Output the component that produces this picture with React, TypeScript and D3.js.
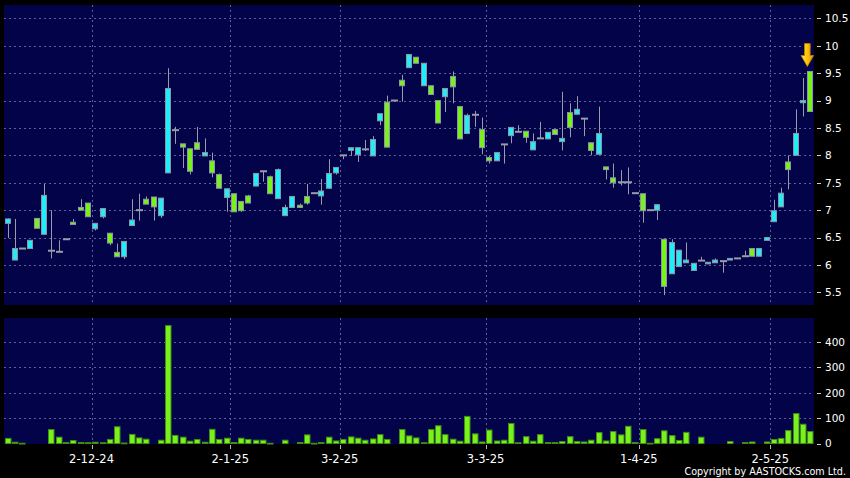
import React from "react";
import * as d3 from "d3";

// ---- data ----
const openP = [
  6.76, 6.09, 6.30, 6.30, 6.85, 6.56, 6.26, 6.24, 6.47, 6.78,
  7.05, 7.13, 6.66, 6.88, 6.58, 6.23, 6.15, 6.72, 7.00, 7.20,
  7.24, 6.90, 7.68, 8.46, 8.21, 8.12, 8.23, 7.99, 7.90, 7.65,
  7.23, 7.30, 7.16, 7.26, 7.44, 7.71, 7.61, 7.21, 6.90, 7.05,
  7.09, 7.25, 7.31, 7.26, 7.40, 7.68, 8.00, 8.09, 8.01, 8.11,
  7.99, 8.63, 8.97, 9.00, 9.37, 9.60, 9.79, 9.27, 9.27, 9.00,
  9.07, 9.44, 8.89, 8.40, 8.74, 8.47, 7.96, 7.90, 8.20, 8.36,
  8.43, 8.44, 8.10, 8.31, 8.30, 8.47, 8.25, 8.78, 8.75, 8.67,
  8.23, 8.02, 7.79, 7.59, 7.51, 7.51, 7.31, 7.30, 7.00, 7.00,
  6.47, 5.84, 5.97, 6.04, 5.90, 6.08, 6.02, 6.04, 6.07, 6.09,
  6.12, 6.16, 6.30, 6.16, 6.45, 6.79, 7.06, 7.88, 8.00, 8.96,
  9.53,
];
const closeP = [
  6.84, 6.30, 6.30, 6.45, 6.67, 7.27, 6.26, 6.24, 6.47, 6.74,
  7.00, 6.88, 6.76, 7.03, 6.40, 6.15, 6.43, 6.82, 7.00, 7.11,
  7.06, 7.22, 9.22, 8.46, 8.15, 7.71, 8.11, 8.05, 7.68, 7.40,
  7.39, 6.97, 6.99, 7.13, 7.67, 7.71, 7.30, 7.74, 7.05, 7.25,
  7.05, 7.13, 7.31, 7.35, 7.67, 7.78, 8.00, 8.14, 8.14, 8.11,
  8.29, 8.76, 8.15, 9.00, 9.27, 9.84, 9.68, 9.68, 9.11, 8.59,
  9.22, 9.25, 8.30, 8.73, 8.74, 8.14, 7.90, 8.05, 8.20, 8.51,
  8.43, 8.33, 8.25, 8.31, 8.42, 8.38, 8.31, 8.51, 8.84, 8.67,
  8.09, 8.40, 7.74, 7.50, 7.51, 7.51, 7.31, 6.99, 7.00, 7.10,
  5.61, 6.41, 6.27, 6.09, 6.03, 6.08, 6.05, 6.09, 6.07, 6.12,
  6.12, 6.16, 6.16, 6.30, 6.50, 6.99, 7.31, 7.74, 8.40, 9.00,
  8.80,
];
const highP = [
  6.85, 6.84, 6.30, 6.45, 6.85, 7.48, 7.00, 6.45, 6.47, 6.84,
  7.20, 7.13, 6.76, 7.03, 6.58, 6.39, 6.43, 7.20, 7.30, 7.25,
  7.24, 7.22, 9.59, 8.52, 8.21, 8.12, 8.52, 8.31, 8.05, 7.67,
  7.39, 7.30, 7.16, 7.28, 7.67, 7.71, 7.63, 7.76, 7.10, 7.25,
  7.12, 7.48, 7.31, 7.57, 7.93, 7.78, 8.00, 8.14, 8.14, 8.28,
  8.35, 8.76, 9.09, 9.00, 9.47, 9.84, 9.79, 9.68, 9.27, 9.00,
  9.22, 9.53, 8.89, 8.76, 8.81, 8.69, 7.99, 8.05, 8.20, 8.51,
  8.55, 8.44, 8.40, 8.61, 8.42, 8.47, 9.16, 8.95, 9.08, 8.67,
  8.23, 8.89, 7.79, 7.85, 7.73, 7.78, 7.31, 7.30, 7.00, 7.11,
  6.47, 6.47, 6.27, 6.41, 6.03, 6.15, 6.05, 6.12, 6.07, 6.12,
  6.12, 6.26, 6.30, 6.30, 6.50, 7.19, 7.41, 8.00, 8.84, 9.41,
  9.53,
];
const lowP = [
  6.49, 6.09, 6.30, 6.30, 6.67, 6.56, 6.12, 6.24, 6.47, 6.74,
  7.00, 6.88, 6.63, 6.85, 6.36, 6.15, 6.11, 6.72, 6.81, 7.11,
  6.81, 6.86, 7.68, 8.21, 7.77, 7.65, 8.11, 7.99, 7.60, 7.40,
  6.97, 6.97, 6.97, 7.13, 7.44, 7.52, 7.30, 7.21, 6.90, 7.05,
  7.05, 7.10, 7.31, 7.10, 7.39, 7.65, 7.93, 7.99, 7.88, 8.08,
  7.99, 8.55, 8.15, 9.00, 8.98, 9.60, 9.68, 9.27, 9.11, 8.59,
  8.79, 8.95, 8.30, 8.40, 8.52, 8.02, 7.85, 7.90, 7.85, 8.22,
  8.43, 8.23, 8.10, 8.31, 8.30, 8.38, 8.09, 8.33, 8.75, 8.35,
  8.00, 8.02, 7.56, 7.41, 7.45, 7.29, 7.31, 6.77, 7.00, 6.82,
  5.45, 5.84, 5.97, 6.04, 5.90, 6.08, 6.02, 6.04, 5.86, 6.09,
  6.12, 6.16, 6.16, 6.16, 6.45, 6.79, 7.06, 7.38, 8.00, 8.71,
  8.80,
];
const volume = [
  20, 5, 1, 0, 0, 0, 55, 25, 4, 12,
  4, 3, 5, 3, 16, 66, 2, 36, 22, 17,
  0, 13, 465, 32, 25, 9, 16, 5, 56, 16,
  21, 4, 21, 16, 13, 13, 1, 0, 13, 0,
  4, 34, 1, 4, 25, 10, 16, 26, 21, 13,
  18, 35, 16, 0, 55, 30, 22, 3, 55, 70,
  35, 17, 9, 107, 38, 6, 53, 10, 13, 79,
  3, 27, 9, 35, 4, 4, 8, 27, 8, 6,
  13, 43, 10, 47, 34, 68, 4, 55, 1, 19,
  50, 31, 12, 44, 0, 25, 0, 0, 0, 8,
  0, 4, 6, 0, 6, 16, 20, 51, 118, 76,
  47,
];
const monthLabels = ["2-12-24", "2-1-25", "3-2-25", "3-3-25", "1-4-25", "2-5-25"];
const monthStartDay = [12, 31, 46, 66, 87, 105];
const priceTicks = [10.5, 10, 9.5, 9, 8.5, 8, 7.5, 7, 6.5, 6, 5.5];
const volumeTicks = [400, 300, 200, 100, 0];

// ---- layout ----
const W = 850, H = 478;
const L = 4, R = 814;
const pTop = 5, pBot = 305;
const vTop = 318, vBot = 444;
const BG = "#03034a";
const GRID = "#5f5f95";
const CYAN = "#22ecf8";
const GREEN = "#7af01c";
const WICK = "#9a9aa8";
const FONT = "DejaVu Sans, Verdana, sans-serif";

export default function App() {
  const days = d3.range(openP.length);
  const x = d3.scaleBand<number>().domain(days).range([L, R]).paddingInner(0).paddingOuter(0);
  const step = x.step();
  const cx = (i: number) => (x(i) as number) + step / 2;
  const y = d3.scaleLinear().domain([5.27, 10.743]).range([pBot, pTop]);
  const yv = d3.scaleLinear().domain([0, 495]).range([443.5, vTop]);

  const bodyW = 5;
  const snap = (v: number) => Math.round(v) + 0.5;

  const last = openP.length - 1;
  const ax = cx(last) - 3;
  const atip = y(highP[last]) - 5;

  return (
    <svg
      width={W}
      height={H}
      style={{ position: "absolute", left: 0, top: 0, display: "block", background: "#000" }}
    >
      <defs>
        <linearGradient id="arrowG" x1="0" x2="1" y1="0" y2="0">
          <stop offset="0" stopColor="#ffe680" />
          <stop offset="0.5" stopColor="#ffc400" />
          <stop offset="1" stopColor="#e09000" />
        </linearGradient>
      </defs>
      <rect x={0} y={0} width={W} height={H} fill="#000" />
      {/* panels */}
      <rect x={L} y={pTop} width={R - L} height={pBot - pTop} fill={BG} />
      <rect x={L} y={vTop} width={R - L} height={vBot - vTop} fill={BG} />

      {/* price grid */}
      {priceTicks.map((t) => (
        <line key={"pg" + t} x1={L} x2={R} y1={snap(y(t))} y2={snap(y(t))}
          stroke={GRID} strokeWidth={1} strokeDasharray="2,3" />
      ))}
      {monthStartDay.map((d) => (
        <line key={"pv" + d} x1={snap(x(d) as number)} x2={snap(x(d) as number)} y1={pTop} y2={pBot}
          stroke={GRID} strokeWidth={1} strokeDasharray="2,3" />
      ))}
      {/* volume grid */}
      {volumeTicks.filter((t) => t > 0).map((t) => (
        <line key={"vg" + t} x1={L} x2={R} y1={snap(yv(t))} y2={snap(yv(t))}
          stroke={GRID} strokeWidth={1} strokeDasharray="2,3" />
      ))}
      {monthStartDay.map((d) => (
        <line key={"vv" + d} x1={snap(x(d) as number)} x2={snap(x(d) as number)} y1={vTop} y2={vBot}
          stroke={GRID} strokeWidth={1} strokeDasharray="2,3" />
      ))}

      {/* candles */}
      {days.map((i) => {
        const o = openP[i], c = closeP[i], h = highP[i], l = lowP[i];
        const xc = snap(cx(i));
        const wick = (
          <line x1={xc} x2={xc} y1={y(h)} y2={y(l)} stroke={WICK} strokeWidth={1} />
        );
        if (o === c) {
          return (
            <g key={"c" + i}>
              {h !== l && wick}
              <line x1={xc - 3.5} x2={xc + 3.5} y1={y(o)} y2={y(o)} stroke={WICK} strokeWidth={2} />
            </g>
          );
        }
        const top = y(Math.max(o, c));
        const bot = y(Math.min(o, c));
        return (
          <g key={"c" + i}>
            {wick}
            <rect x={Math.round(cx(i) - bodyW / 2 - 0.5) + 0.5} y={top} width={bodyW}
              height={Math.max(1.5, bot - top)} fill={c > o ? CYAN : GREEN}
              stroke="#8a96a6" strokeWidth={1} />
          </g>
        );
      })}

      {/* volume bars */}
      {days.map((i) =>
        volume[i] > 0 ? (
          <rect key={"v" + i} x={Math.round(cx(i) - 3) + 0.5} y={yv(volume[i])}
            width={5.5} height={Math.max(0.8, 443.5 - yv(volume[i]))}
            fill={GREEN} stroke="#3f8e12" strokeWidth={1} />
        ) : null
      )}

      {/* arrow marker on last candle */}
      <path
        d={`M${ax - 2.8},${atip - 23} L${ax + 2.8},${atip - 23} L${ax + 2.8},${atip - 11}
            L${ax + 6.3},${atip - 11} L${ax},${atip} L${ax - 6.3},${atip - 11} L${ax - 2.8},${atip - 11} Z`}
        fill="url(#arrowG)" stroke="#c27c00" strokeWidth={0.8} />

      {/* right price axis */}
      {priceTicks.map((t) => (
        <g key={"pl" + t}>
          <line x1={817} x2={821} y1={snap(y(t))} y2={snap(y(t))} stroke="#d0d0d0" strokeWidth={1} />
          <text x={825} y={y(t)} dy="0.36em" fill="#ffffff" fontSize={10.5} fontFamily={FONT}>
            {String(t)}
          </text>
        </g>
      ))}
      {/* right volume axis */}
      {volumeTicks.map((t) => (
        <g key={"vl" + t}>
          <line x1={817} x2={821} y1={snap(yv(t))} y2={snap(yv(t))} stroke="#d0d0d0" strokeWidth={1} />
          <text x={825} y={yv(t)} dy="0.36em" fill="#ffffff" fontSize={10.5} fontFamily={FONT}>
            {String(t)}
          </text>
        </g>
      ))}

      {/* date axis */}
      {monthStartDay.map((d, k) => (
        <g key={"dl" + d}>
          <line x1={snap(x(d) as number)} x2={snap(x(d) as number)} y1={445} y2={449} stroke="#bbbbbb" strokeWidth={1} />
          <text x={x(d) as number} y={462.5} textAnchor="middle" fill="#ffffff" fontSize={11.5} fontFamily={FONT}>
            {monthLabels[k]}
          </text>
        </g>
      ))}

      <text x={846} y={475} textAnchor="end" fill="#ffffff" fontSize={9.6} fontFamily={FONT}>
        Copyright by AASTOCKS.com Ltd.
      </text>
    </svg>
  );
}
